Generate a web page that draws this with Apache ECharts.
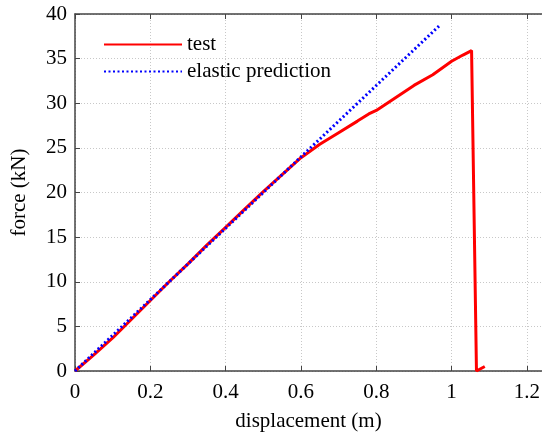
<!DOCTYPE html>
<html lang="en">
<head>
    <meta charset="UTF-8">
    <title>force - displacement</title>
    <script src="https://cdn.jsdelivr.net/npm/echarts@6/dist/echarts.min.js"></script>
</head>
<body style="margin:0;">

<div id="main" style="width: 542px;height:434px;"></div>

<script type="text/javascript">
    // test curve (displacement m, force kN)
    var testX = [0, 0.05, 0.1, 0.15, 0.2, 0.25, 0.3, 0.35, 0.4, 0.45, 0.5, 0.55, 0.6, 0.65, 0.7, 0.75, 0.78, 0.8, 0.85, 0.9, 0.95, 1.0, 1.03, 1.053, 1.058, 1.066, 1.088];
    var testY = [0, 1.8, 3.7, 5.8, 7.9, 10, 12, 14.1, 16.1, 18.1, 20.1, 22, 23.9, 25.4, 26.7, 28, 28.8, 29.2, 30.6, 32, 33.2, 34.7, 35.4, 35.9, 35.7, 0, 0.5];
    // elastic prediction
    var elasticX = [0, 0.969];
    var elasticY = [0, 38.75];
    var xTicks = [0, 0.2, 0.4, 0.6, 0.8, 1, 1.2];

    function pairs(xs, ys) {
        return xs.map(function (x, i) { return [x, ys[i]]; });
    }

    var font = '"Liberation Serif", "Times New Roman", serif';
    var fs = 21;
    var axisCol = '#444';
    var gridLine = { show: true, lineStyle: { color: '#c8c8c8', type: [1, 2], width: 1 } };

    var myChart = echarts.init(document.getElementById('main'));

    myChart.setOption({
        animation: false,
        textStyle: { fontFamily: font },
        grid: { left: 75, right: 0, top: 14, bottom: 63, outerBoundsMode: 'none', containLabel: false },
        legend: {
            orient: 'vertical',
            left: 103,
            top: 34,
            padding: 0,
            itemWidth: 78,
            itemHeight: 22,
            itemGap: 6,
            itemStyle: { opacity: 0 },
            textStyle: { fontFamily: font, fontSize: fs, color: '#000' },
            data: ['test', 'elastic prediction']
        },
        xAxis: [{
            type: 'value',
            min: 0,
            max: 1.24,
            interval: 0.2,
            name: 'displacement (m)',
            nameLocation: 'middle',
            nameGap: 40,
            nameTextStyle: { fontFamily: font, fontSize: fs, color: '#000' },
            axisLine: { lineStyle: { color: axisCol, width: 1.5 } },
            axisTick: { inside: true, length: 5, lineStyle: { color: axisCol } },
            axisLabel: {
                fontFamily: font, fontSize: fs, color: '#000', margin: 11, showMaxLabel: false,
                formatter: function (v) { return xTicks.indexOf(+v.toFixed(2)) >= 0 ? String(+v.toFixed(2)) : ''; }
            },
            splitLine: gridLine
        }, {
            type: 'value',
            position: 'top',
            min: 0,
            max: 1.24,
            interval: 0.2,
            axisLine: { show: true, lineStyle: { color: axisCol, width: 1.5 } },
            axisTick: { show: true, inside: true, length: 5, lineStyle: { color: axisCol } },
            axisLabel: { show: false },
            splitLine: { show: false }
        }],
        yAxis: [{
            type: 'value',
            min: 0,
            max: 40,
            interval: 5,
            name: 'force (kN)',
            nameLocation: 'middle',
            nameGap: 45,
            nameTextStyle: { fontFamily: font, fontSize: fs, color: '#000' },
            axisLine: { show: true, lineStyle: { color: axisCol, width: 1.5 } },
            axisTick: { show: true, inside: true, length: 5, lineStyle: { color: axisCol } },
            axisLabel: { fontFamily: font, fontSize: fs, color: '#000', margin: 8 },
            splitLine: gridLine
        }],
        series: [{
            name: 'test',
            type: 'line',
            symbol: 'none',
            color: '#ff0000',
            lineStyle: { color: '#ff0000', width: 3 },
            data: pairs(testX, testY),
            z: 3
        }, {
            name: 'elastic prediction',
            type: 'line',
            symbol: 'none',
            color: '#0000ff',
            lineStyle: { color: '#0000ff', width: 3, type: [2, 2.5] },
            data: pairs(elasticX, elasticY),
            z: 4
        }]
    });
</script>

</body>
</html>
